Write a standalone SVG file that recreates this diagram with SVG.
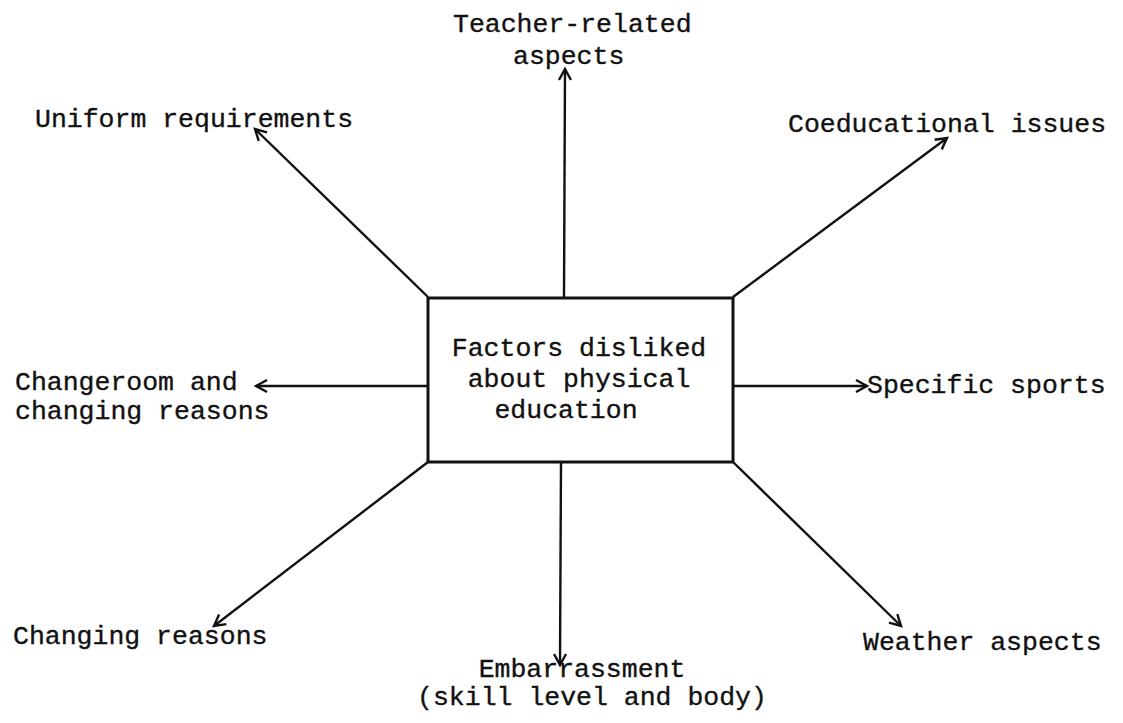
<svg xmlns="http://www.w3.org/2000/svg" width="1123" height="723" viewBox="0 0 1123 723">
<style>
  .lbl { font-family: "Liberation Mono", "Courier New", monospace; font-size: 26.5px; fill: #111; stroke: #111; stroke-width: 0.35; }
  .box { fill: #fff; stroke: #111; stroke-width: 3; }
  .conn { stroke: #111; stroke-width: 2.4; fill: none; marker-end: url(#arr); }
</style>
<defs>
  <marker id="arr" markerUnits="userSpaceOnUse" markerWidth="16" markerHeight="16" refX="13" refY="7" orient="auto" viewBox="0 0 16 14">
    <path d="M2,1 L13,7 L2,13" fill="none" stroke="#111" stroke-width="2.4"/>
  </marker>
</defs>
<rect width="1123" height="723" fill="#fff"/>
<g id="connectors">
  <line class="conn" x1="564" y1="298" x2="565" y2="69"/>
  <line class="conn" x1="428" y1="297" x2="255" y2="129"/>
  <line class="conn" x1="733" y1="297" x2="947" y2="138"/>
  <line class="conn" x1="428" y1="386" x2="256" y2="386"/>
  <line class="conn" x1="733" y1="386" x2="867" y2="386"/>
  <line class="conn" x1="428" y1="462" x2="214" y2="626"/>
  <line class="conn" x1="561" y1="462" x2="560" y2="665"/>
  <line class="conn" x1="733" y1="462" x2="901" y2="626"/>
</g>
<g id="center">
  <rect class="box" x="428" y="298" width="305" height="164"/>
  <text class="lbl" x="579" y="356" text-anchor="middle">Factors disliked</text>
  <text class="lbl" x="579" y="387" text-anchor="middle">about physical</text>
  <text class="lbl" x="566" y="418" text-anchor="middle">education</text>
</g>
<g id="teacher">
  <text class="lbl" x="453" y="32">Teacher-related</text>
  <text class="lbl" x="513" y="64">aspects</text>
</g>
<g id="uniform">
  <text class="lbl" x="35" y="127">Uniform requirements</text>
</g>
<g id="coeducational">
  <text class="lbl" x="788" y="132">Coeducational issues</text>
</g>
<g id="changeroom">
  <text class="lbl" x="15" y="390">Changeroom and</text>
  <text class="lbl" x="15" y="419">changing reasons</text>
</g>
<g id="sports">
  <text class="lbl" x="867" y="393">Specific sports</text>
</g>
<g id="changing">
  <text class="lbl" x="13" y="644">Changing reasons</text>
</g>
<g id="embarrassment">
  <text class="lbl" x="582" y="677" text-anchor="middle">Embarrassment</text>
  <text class="lbl" x="592" y="705" text-anchor="middle">(skill level and body)</text>
</g>
<g id="weather">
  <text class="lbl" x="863" y="650">Weather aspects</text>
</g>
</svg>
